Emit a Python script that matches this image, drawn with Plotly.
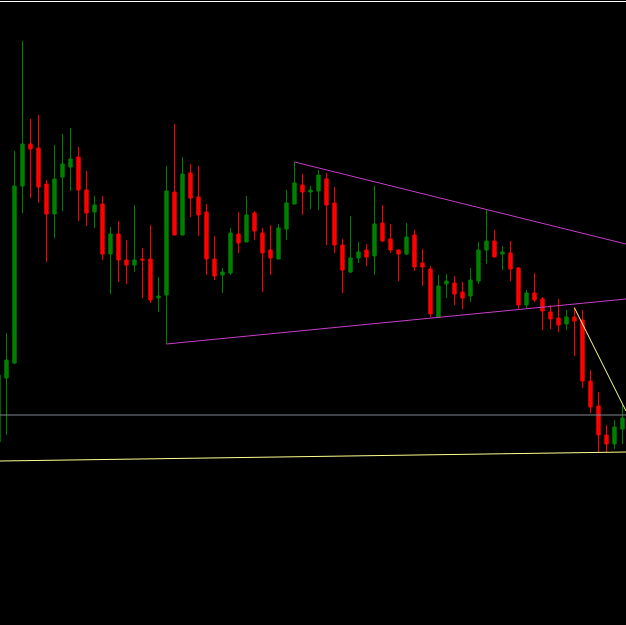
import plotly.graph_objects as go

# Candles (price units = 625 - pixel row)
idx = list(range(79))
open_y  = [442,378,363,186,144,148,184,214,177,167,157,190,212,204,254,234,260,265,259,259,298,295,192,235,173,197,212,259,275,273,234,242,213,233,250,259,229,204,185,192,191,179,203,245,272,258,250,256,223,239,250,254,235,263,269,317,284,283,292,296,281,250,241,254,253,268,305,293,299,312,318,324,317,320,381,406,435,444,429]
high_y  = [373,333,151,41,119,115,180,145,134,128,147,171,196,196,227,221,240,205,248,225,277,166,124,157,164,166,204,236,268,228,212,196,211,228,225,224,190,162,174,186,170,173,187,239,216,242,244,186,205,224,250,223,230,249,266,275,274,276,282,268,242,210,230,246,241,267,290,273,297,305,299,310,307,310,370,392,425,420,405]
low_y   = [442,435,364,213,198,203,262,238,211,191,221,226,228,260,294,282,284,272,298,303,312,344,235,235,217,236,275,280,293,275,253,242,240,292,275,259,240,204,215,209,210,245,253,293,273,263,266,275,242,253,281,255,271,286,317,318,298,305,309,302,284,264,257,270,281,310,308,302,330,329,332,330,356,388,413,453,453,449,444]
close_y = [375,360,186,144,149,187,214,179,164,159,190,213,205,254,234,260,265,260,260,300,296,191,235,174,198,215,259,276,272,233,243,215,231,253,258,228,203,183,192,190,175,205,245,270,258,252,257,224,241,250,254,237,267,267,314,286,281,294,298,280,250,241,257,252,269,305,293,300,311,319,325,317,321,381,407,435,444,427,418]

H = 625
opens = [H - v for v in open_y]
highs = [H - v for v in high_y]
lows = [H - v for v in low_y]
closes = [H - v for v in close_y]

# Drawn objects (x in bar index, y in price units)
upper_tl_x = [37.0, 78.4375]
upper_tl_y = [463, 381]
lower_tl_x = [21.0, 78.4375]
lower_tl_y = [281, 326]
yellow_diag_x = [72.0, 78.4375]
yellow_diag_y = [317, 214]
yellow_base_x = [0.1875, 78.4375]
yellow_base_y = [164, 173]
gray_level = 210
top_level = 623.5

X0, X1 = 0.1875, 78.4375

fig = go.Figure()
fig.add_trace(go.Candlestick(
    x=idx, open=opens, high=highs, low=lows, close=closes,
    increasing=dict(line=dict(color="#008000", width=1), fillcolor="#008000"),
    decreasing=dict(line=dict(color="#ff0000", width=1), fillcolor="#ff0000"),
    whiskerwidth=0, hoverinfo="skip", showlegend=False,
))

def add_line(xs, ys, color, width=1):
    fig.add_trace(go.Scatter(x=xs, y=ys, mode="lines",
                             line=dict(color=color, width=width),
                             hoverinfo="skip", showlegend=False))

add_line([X0, X1], [gray_level, gray_level], "#80868e")
add_line(yellow_base_x, yellow_base_y, "#ffff8c")
add_line(yellow_diag_x, yellow_diag_y, "#ffff8c")
add_line(upper_tl_x, upper_tl_y, "#c83cc8")
add_line(lower_tl_x, lower_tl_y, "#c83cc8")
add_line([X0, X1], [top_level, top_level], "#ffffff")

fig.update_layout(
    width=626, height=625,
    margin=dict(l=0, r=0, t=0, b=0),
    paper_bgcolor="#000000", plot_bgcolor="#000000",
    boxgap=0.4,
    xaxis=dict(range=[X0, X1], visible=False, showgrid=False, zeroline=False,
               rangeslider=dict(visible=False)),
    yaxis=dict(range=[0, H], visible=False, showgrid=False, zeroline=False),
    showlegend=False,
)

fig.write_html(
    "out.html",
    config={"displayModeBar": False},
    post_script="document.body.style.margin='0';document.body.style.padding='0';"
                "document.body.style.background='#000';"
                "document.documentElement.style.overflow='hidden';",
)
